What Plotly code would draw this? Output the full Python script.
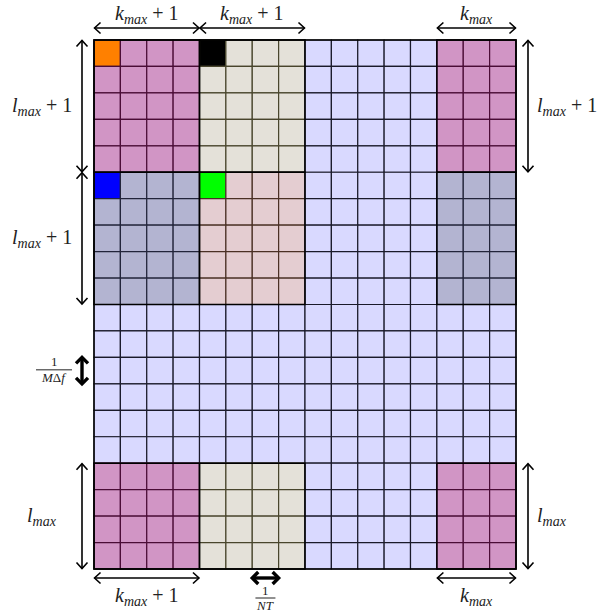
import plotly.graph_objects as go

# Block layout of the grid (columns left->right, rows top->bottom)
col_block_sizes = [4, 4, 5, 3]
row_block_sizes = [5, 5, 6, 4]

PINK = "#d195c5"
BEIGE = "#e4e1d9"
LAV = "#d9d9ff"
GRAYBLUE = "#b3b4d1"
ROSE = "#e4cdd1"

block_colors = [
    [PINK, BEIGE, LAV, PINK],
    [GRAYBLUE, ROSE, LAV, GRAYBLUE],
    [LAV, LAV, LAV, LAV],
    [PINK, BEIGE, LAV, PINK],
]
# grid-line tint used inside each block colour
line_tint = {PINK: "#4a0c36", BEIGE: "#48452c", LAV: "#1a1a2a",
             GRAYBLUE: "#22243a", ROSE: "#4a3024"}

# single highlighted cells: (row, col, colour)
special_cells = [(0, 0, "#ff8000"), (0, 4, "#000000"),
                 (5, 0, "#0000ff"), (5, 4, "#00ff00")]

# dimension labels
top_labels = ["<i>k</i><sub><i>max</i></sub> + 1", "<i>k</i><sub><i>max</i></sub> + 1",
              None, "<i>k</i><sub><i>max</i></sub>"]
bottom_labels = ["<i>k</i><sub><i>max</i></sub> + 1", None, None,
                 "<i>k</i><sub><i>max</i></sub>"]
left_labels = ["<i>l</i><sub><i>max</i></sub> + 1", "<i>l</i><sub><i>max</i></sub> + 1",
               None, "<i>l</i><sub><i>max</i></sub>"]
right_labels = ["<i>l</i><sub><i>max</i></sub> + 1", None, None,
                "<i>l</i><sub><i>max</i></sub>"]

W, H = 602, 614
NC, NR = sum(col_block_sizes), sum(row_block_sizes)
gx0, gx1, gy0, gy1 = 94, 516, 40, 569
ux = (gx1 - gx0) / NC
uy = (gy1 - gy0) / NR
xr = [-gx0 / ux, NC + (W - gx1) / ux]
yr = [NR + (H - gy1) / uy, -gy0 / uy]

fig = go.Figure()
shapes = []

def edges(sizes):
    e = [0]
    for s in sizes:
        e.append(e[-1] + s)
    return e

cx = edges(col_block_sizes)
cy = edges(row_block_sizes)

special = {(r, c): col for r, c, col in special_cells}
for bi in range(len(row_block_sizes)):
    for bj in range(len(col_block_sizes)):
        fill = block_colors[bi][bj]
        for r in range(cy[bi], cy[bi + 1]):
            for c in range(cx[bj], cx[bj + 1]):
                shapes.append(dict(type="rect", xref="x", yref="y",
                                   x0=c, x1=c + 1, y0=r, y1=r + 1,
                                   fillcolor=special.get((r, c), fill),
                                   line=dict(color=line_tint[fill], width=1.2),
                                   layer="below"))
# black outlines around each coloured block
for bi in range(len(row_block_sizes)):
    for bj in range(len(col_block_sizes)):
        if block_colors[bi][bj] == LAV:
            continue
        shapes.append(dict(type="rect", xref="x", yref="y",
                           x0=cx[bj], x1=cx[bj + 1], y0=cy[bi], y1=cy[bi + 1],
                           fillcolor="rgba(0,0,0,0)",
                           line=dict(color="black", width=1.4)))
shapes.append(dict(type="rect", xref="x", yref="y", x0=0, x1=NC, y0=0, y1=NR,
                   fillcolor="rgba(0,0,0,0)", line=dict(color="black", width=1.4)))


def double_arrow(x0, y0, x1, y1, width=1.6, head=6.0, half=5.5):
    """Line with open chevron heads at both ends (sizes in pixels)."""
    xs, ys = [x0, x1, None], [y0, y1, None]
    horiz = abs(y1 - y0) < 1e-9
    for (px, py, sgn) in [(x0, y0, 1), (x1, y1, -1)]:
        if horiz:
            s = sgn if x1 > x0 else -sgn
            xs += [px + s * head / ux, px, px + s * head / ux, None]
            ys += [py - half / uy, py, py + half / uy, None]
        else:
            s = sgn if y1 > y0 else -sgn
            xs += [px - half / ux, px, px + half / ux, None]
            ys += [py + s * head / uy, py, py + s * head / uy, None]
    fig.add_trace(go.Scatter(x=xs, y=ys, mode="lines", hoverinfo="skip",
                             line=dict(color="black", width=width),
                             showlegend=False))


annotations = []
FONT = dict(family="Liberation Serif", size=20, color="#222")

def label(x, y, text, size=20, xanchor="center"):
    annotations.append(dict(x=x, y=y, xref="x", yref="y", text=text,
                            showarrow=False, xanchor=xanchor, yanchor="middle",
                            font=dict(FONT, size=size)))

top_y = -12 / uy
bot_y = NR + 9 / uy
left_x = -12 / ux
right_x = NC + 12 / ux
for j, t in enumerate(top_labels):
    if t:
        double_arrow(cx[j] + 0.02, top_y, cx[j + 1] - 0.02, top_y)
        label((cx[j] + cx[j + 1]) / 2, -26 / uy, t)
for j, t in enumerate(bottom_labels):
    if t:
        double_arrow(cx[j] + 0.02, bot_y, cx[j + 1] - 0.02, bot_y)
        label((cx[j] + cx[j + 1]) / 2, NR + 27 / uy, t)
for i, t in enumerate(left_labels):
    if t:
        double_arrow(left_x, cy[i] + 0.02, left_x, cy[i + 1] - 0.02)
        label(-52 / ux, (cy[i] + cy[i + 1]) / 2, t)
for i, t in enumerate(right_labels):
    if t:
        double_arrow(right_x, cy[i] + 0.02, right_x, cy[i + 1] - 0.02)
        label(NC + 19 / ux, (cy[i] + cy[i + 1]) / 2, t, xanchor="left")

# single-cell spacing markers
nt_col = 6
double_arrow(nt_col, bot_y, nt_col + 1, bot_y, width=3.4, head=6, half=6)
fx = nt_col + 0.5
label(fx, NR + 21 / uy, "1", size=13)
label(fx, NR + 36 / uy, "<i>NT</i>", size=13)
shapes.append(dict(type="line", xref="x", yref="y", x0=fx - 10 / ux, x1=fx + 10 / ux,
                   y0=NR + 29 / uy, y1=NR + 29 / uy, line=dict(color="#222", width=1)))

mf_row = 12
mx = -12 / ux
double_arrow(mx, mf_row, mx, mf_row + 1, width=3.4, head=6, half=6)
fy = -40 / ux
label(fy, mf_row + 0.17, "1", size=13)
label(fy, mf_row + 0.76, "<i>M</i>Δ<i>f</i>", size=13)
shapes.append(dict(type="line", xref="x", yref="y", x0=fy - 18 / ux, x1=fy + 18 / ux,
                   y0=mf_row + 0.47, y1=mf_row + 0.47, line=dict(color="#222", width=1)))

fig.update_layout(
    width=W, height=H, margin=dict(l=0, r=0, t=0, b=0),
    paper_bgcolor="white", plot_bgcolor="white",
    xaxis=dict(range=xr, visible=False, fixedrange=True),
    yaxis=dict(range=yr, visible=False, fixedrange=True),
    shapes=shapes, annotations=annotations,
)
fig.write_html("out.html")
